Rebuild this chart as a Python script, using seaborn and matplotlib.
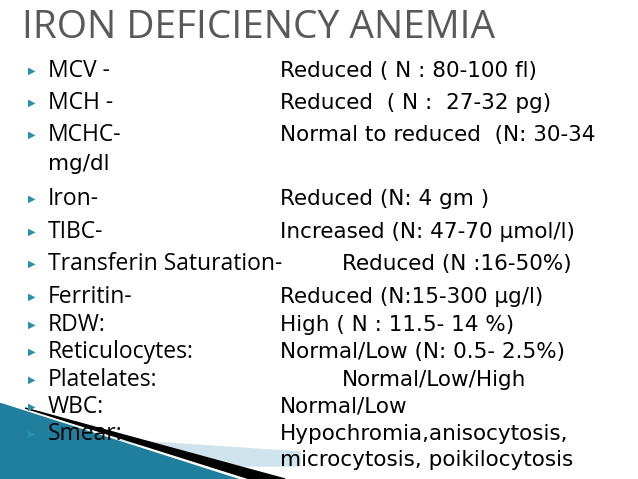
import matplotlib
matplotlib.use("Agg")
import matplotlib.pyplot as plt
import seaborn as sns

sns.set_theme(style="white")

title = "IRON DEFICIENCY ANEMIA"
labels = ["MCV -", "MCH -", "MCHC-", "Iron-", "TIBC-", "Transferin Saturation-",
          "Ferritin-", "RDW:", "Reticulocytes:", "Platelates:", "WBC:", "Smear:"]
values = ["Reduced ( N : 80-100 fl)", "Reduced  ( N :  27-32 pg)",
          "Normal to reduced  (N: 30-34", "Reduced (N: 4 gm )",
          "Increased (N: 47-70 \u00b5mol/l)", "Reduced (N :16-50%)",
          "Reduced (N:15-300 \u00b5g/l)", "High ( N : 11.5- 14 %)",
          "Normal/Low (N: 0.5- 2.5%)", "Normal/Low/High", "Normal/Low",
          "Hypochromia,anisocytosis,"]
extra = {2: "mg/dl", 11: "microcytosis, poikilocytosis"}
row_y = [71, 103, 135, 199, 232, 264, 297, 325, 352, 380, 407, 434]
val_x = [280, 280, 280, 280, 280, 342, 280, 280, 280, 342, 280, 280]

fig = plt.figure(figsize=(6.38, 4.79), dpi=100)
ax = fig.add_axes([0, 0, 1, 1])
ax.set_xlim(0, 638)
ax.set_ylim(479, 0)
ax.axis("off")

# decoration bottom-left
ax.fill([0, 0, 238], [403, 479, 479], color="#1f7f9c", zorder=1)
ax.fill([120, 300, 300, 230], [440, 452, 466, 466], color="#cfe3ec", zorder=1)
ax.fill([25, 285, 250], [408, 479, 479], color="black", zorder=2)

ax.text(22, 28, title, fontsize=28, color="#595959", family="Open Sans",
        va="center", ha="left")

for i, (lab, val, y, vx) in enumerate(zip(labels, values, row_y, val_x)):
    ax.text(28, y, "\u25b6", fontsize=7, color="#2a8fae", va="center", ha="left", zorder=3)
    ax.text(48, y, lab, fontsize=16.5, color="black", family="Open Sans",
            va="center", ha="left", zorder=3)
    ax.text(vx, y, val, fontsize=15.5, color="black", family="DejaVu Sans",
            va="center", ha="left", zorder=3)
    if i in extra:
        ex = 48 if i == 2 else 280
        ax.text(ex, y + 29 if i == 2 else y + 26, extra[i], fontsize=15.5, color="black",
                family="DejaVu Sans", va="center", ha="left", zorder=3)

fig.savefig("out.png", dpi=100)
